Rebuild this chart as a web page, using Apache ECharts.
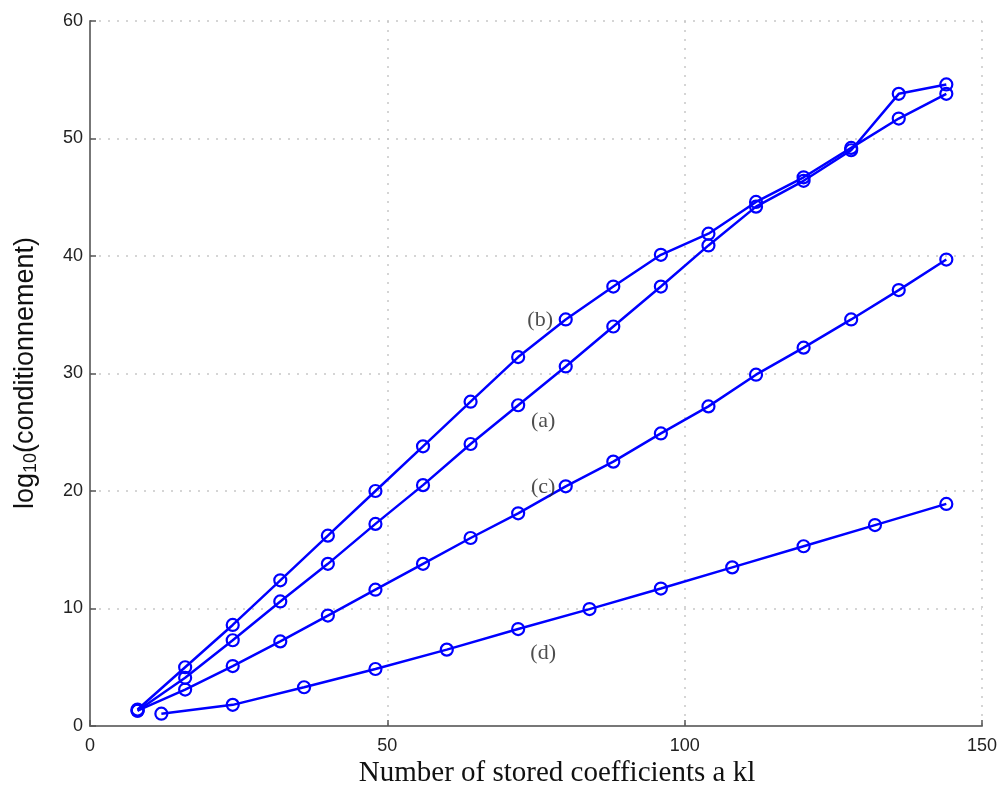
<!DOCTYPE html>
<html>
<head>
<meta charset="utf-8">
<script src="https://cdn.jsdelivr.net/npm/echarts@6/dist/echarts.min.js"></script>
<style>html,body{margin:0;padding:0;background:#fff;}#c{width:1004px;height:789px;}</style>
</head>
<body>
<div id="c"></div>
<script>
const xABC = [8,16,24,32,40,48,56,64,72,80,88,96,104,112,120,128,136,144];
const yA = [1.3,4.1,7.3,10.6,13.8,17.2,20.5,24.0,27.3,30.6,34.0,37.4,40.9,44.2,46.4,49.0,53.8,54.6];
const yB = [1.4,5.0,8.6,12.4,16.2,20.0,23.8,27.6,31.4,34.6,37.4,40.1,41.9,44.6,46.7,49.2,51.7,53.8];
const yC = [1.3,3.1,5.1,7.2,9.4,11.6,13.8,16.0,18.1,20.4,22.5,24.9,27.2,29.9,32.2,34.6,37.1,39.7];
const xD = [12,24,36,48,60,72,84,96,108,120,132,144];
const yD = [1.05,1.8,3.3,4.85,6.5,8.25,9.95,11.7,13.5,15.3,17.1,18.9];
const labelNames = ['(a)','(b)','(c)','(d)'];
const labelX = [76.2,75.7,76.2,76.2];
const labelY = [25.9,34.5,20.3,6.2];
const xTicks = [0,50,100,150];
const yTicks = [0,10,20,30,40,50,60];

const zip = (xs, ys) => xs.map((x,i)=>[x, ys[i]]);
const blue = '#0000ff';
function lineSeries(data){
  return {
    type:'line', data:data, symbol:'circle', symbolSize:12, showSymbol:true,
    lineStyle:{color:blue,width:2.5},
    itemStyle:{color:'rgba(0,0,0,0)',borderColor:blue,borderWidth:2.2},
    emphasis:{disabled:true}, animation:false, z:3
  };
}
const chart = echarts.init(document.getElementById('c'));
const axisCommon = {
  axisLine:{show:true,lineStyle:{color:'#777',width:2}},
  axisTick:{show:true,inside:true,length:6,lineStyle:{color:'#555',width:1.5}},
  splitLine:{show:true,lineStyle:{color:'#c8c8c8',type:[2,7],width:1.5}},
  axisLabel:{color:'#222',fontFamily:'Liberation Sans, Arial, sans-serif',fontSize:18}
};
chart.setOption({
  animation:false,
  backgroundColor:'#fff',
  grid:{left:90,right:22,top:21,bottom:63,containLabel:false},
  xAxis:Object.assign({type:'value',min:xTicks[0],max:xTicks[xTicks.length-1],interval:50}, axisCommon,
    {axisLabel:Object.assign({},axisCommon.axisLabel,{margin:11})}),
  yAxis:Object.assign({type:'value',min:yTicks[0],max:yTicks[yTicks.length-1],interval:10}, axisCommon,
    {axisLabel:Object.assign({},axisCommon.axisLabel,{margin:7})}),
  series:[
    lineSeries(zip(xABC,yA)),
    lineSeries(zip(xABC,yB)),
    lineSeries(zip(xABC,yC)),
    lineSeries(zip(xD,yD)),
    {
      type:'scatter', symbolSize:0, animation:false, silent:true,
      data: labelNames.map((n,i)=>({value:[labelX[i],labelY[i]], name:n})),
      label:{show:true,position:'inside',formatter:p=>p.name,color:'#222',
        fontFamily:'Liberation Serif, Times New Roman, serif',fontSize:22},
      z:5
    }
  ],
  graphic:[
    {type:'text', x:557, y:773, style:{text:'Number of stored coefficients a kl', align:'center', verticalAlign:'middle',
      font:'29px "Liberation Serif", "Times New Roman", serif', fill:'#111'}},
    {type:'text', x:12, y:373, rotation:Math.PI/2,
      style:{text:'{a|log}{s|10}{a|(conditionnement)}', align:'center', verticalAlign:'top',
        rich:{a:{font:'27px "Liberation Sans", Arial, sans-serif',fill:'#111'},
              s:{font:'18px "Liberation Sans", Arial, sans-serif',fill:'#111',verticalAlign:'bottom',padding:[10,0,0,0]}}}}
  ]
});
</script>
</body>
</html>
